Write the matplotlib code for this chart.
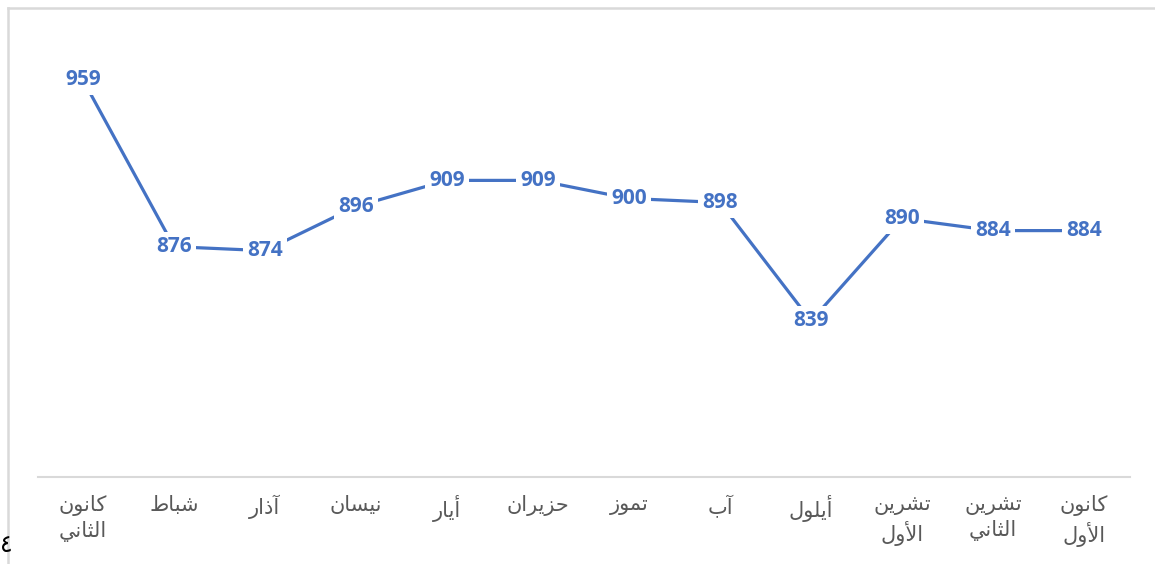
import matplotlib
matplotlib.use('Agg')
import matplotlib.pyplot as plt
from matplotlib.lines import Line2D

# monthly values (Levantine month names)
months = ['كانون الثاني', 'شباط', 'آذار', 'نيسان', 'أيار', 'حزيران',
          'تموز', 'آب', 'أيلول', 'تشرين الأول', 'تشرين الثاني', 'كانون الأول']
values = [959, 876, 874, 896, 909, 909, 900, 898, 839, 890, 884, 884]

BLUE = '#4472C4'
GRID = '#D9D9D9'

# matplotlib 3.10 has no Arabic shaping, so pick presentation forms by hand
# (isolated, final, initial, medial); right-joining letters have only two
FORMS = {
    'ا': ('\uFE8D', '\uFE8E'),
    'آ': ('\uFE81', '\uFE82'),
    'أ': ('\uFE83', '\uFE84'),
    'ب': ('\uFE8F', '\uFE90', '\uFE91', '\uFE92'),
    'ت': ('\uFE95', '\uFE96', '\uFE97', '\uFE98'),
    'ث': ('\uFE99', '\uFE9A', '\uFE9B', '\uFE9C'),
    'ح': ('\uFEA1', '\uFEA2', '\uFEA3', '\uFEA4'),
    'ذ': ('\uFEAB', '\uFEAC'),
    'ر': ('\uFEAD', '\uFEAE'),
    'ز': ('\uFEAF', '\uFEB0'),
    'س': ('\uFEB1', '\uFEB2', '\uFEB3', '\uFEB4'),
    'ش': ('\uFEB5', '\uFEB6', '\uFEB7', '\uFEB8'),
    'ط': ('\uFEC1', '\uFEC2', '\uFEC3', '\uFEC4'),
    'ك': ('\uFED9', '\uFEDA', '\uFEDB', '\uFEDC'),
    'ل': ('\uFEDD', '\uFEDE', '\uFEDF', '\uFEE0'),
    'م': ('\uFEE1', '\uFEE2', '\uFEE3', '\uFEE4'),
    'ن': ('\uFEE5', '\uFEE6', '\uFEE7', '\uFEE8'),
    'و': ('\uFEED', '\uFEEE'),
    'ي': ('\uFEF1', '\uFEF2', '\uFEF3', '\uFEF4'),
}
LAM_ALEF = {'ا': ('\uFEFB', '\uFEFC'), 'أ': ('\uFEF7', '\uFEF8'),
            'آ': ('\uFEF5', '\uFEF6')}


def shape(word):
    units = []
    i = 0
    while i < len(word):
        c = word[i]
        if c == 'ل' and i + 1 < len(word) and word[i + 1] in LAM_ALEF:
            units.append(LAM_ALEF[word[i + 1]])
            i += 2
        else:
            units.append(FORMS.get(c, (c, c)))
            i += 1
    out = []
    for k, f in enumerate(units):
        prev = k > 0 and len(units[k - 1]) == 4
        nxt = len(f) == 4 and k + 1 < len(units)
        if prev and nxt:
            out.append(f[3])
        elif prev:
            out.append(f[1])
        elif nxt:
            out.append(f[2])
        else:
            out.append(f[0])
    return ''.join(reversed(out))


def label(name):
    return '\n'.join(shape(w) for w in name.split(' '))


W, H = 1155, 564
fig = plt.figure(figsize=(W / 100, H / 100), dpi=100)
ax = fig.add_axes([37.5 / W, (H - 477) / H, 1092 / W, 442 / H])

x = list(range(len(values)))
ax.plot(x, values, color=BLUE, lw=2.3, solid_capstyle='butt')
for xi, v in zip(x, values):
    ax.text(xi, v, str(v), ha='center', va='center', color=BLUE,
            fontsize=15, fontweight='bold', family=['Open Sans', 'DejaVu Sans'],
            bbox=dict(boxstyle='square,pad=0.22', fc='white', ec='none'))

ax.set_xlim(-0.5, len(values) - 0.5)
ax.set_ylim(761.3, 981.4)
ax.set_yticks([])
ax.set_xticks(x)
ax.set_xticklabels([label(m) for m in months], family='DejaVu Sans',
                   fontsize=15, color='#595959', linespacing=1.3)
ax.tick_params(axis='x', length=0, pad=13)
for s in ['top', 'left', 'right']:
    ax.spines[s].set_visible(False)
ax.spines['bottom'].set_color(GRID)
ax.spines['bottom'].set_linewidth(1.5)

# chart frame (only top and left edges show in the crop)
fig.add_artist(Line2D([8 / W, 8 / W], [0, 1 - 8 / H], color=GRID, lw=1.8))
fig.add_artist(Line2D([8 / W, 1], [1 - 8 / H, 1 - 8 / H], color=GRID, lw=1.8))

# stray page-number digit at the lower left
fig.text(0.0, 1 - 545 / H, '\u0664', ha='left', va='center', fontsize=17,
         color='black', family='DejaVu Sans')

fig.savefig('out.png', dpi=100)
